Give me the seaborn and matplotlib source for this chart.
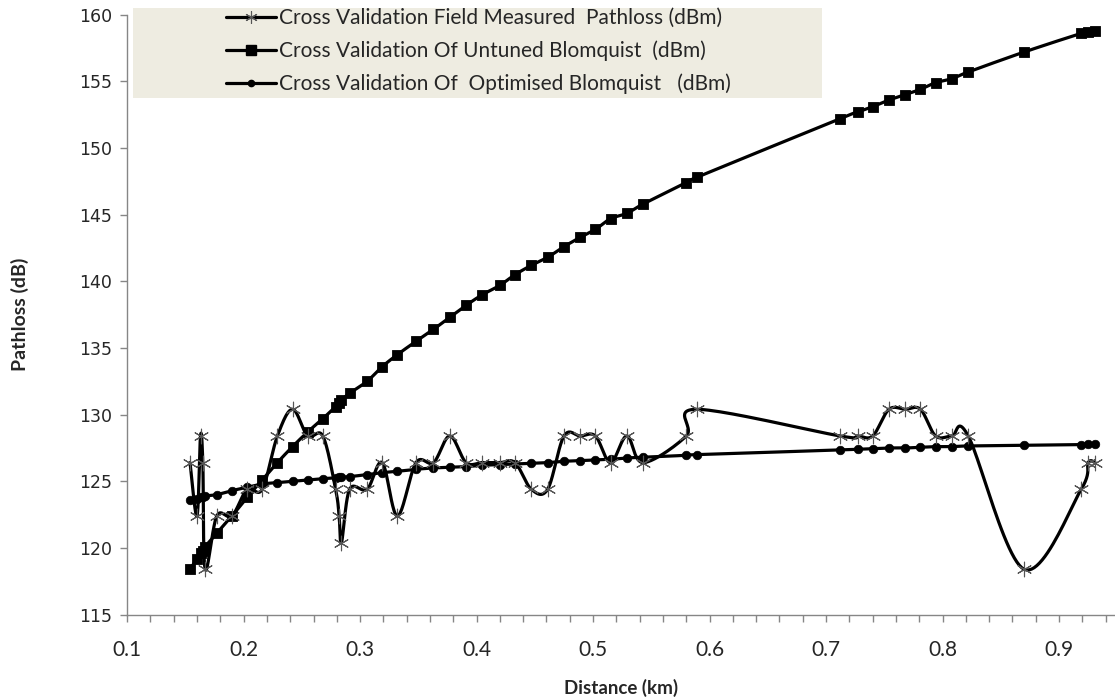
import numpy as np
import pandas as pd
import matplotlib
matplotlib.use("Agg")
import matplotlib.pyplot as plt
from matplotlib.lines import Line2D
from matplotlib.patches import Rectangle
from matplotlib.ticker import MultipleLocator
import seaborn as sns

# DATA

distance = [0.154, 0.160, 0.163, 0.165, 0.167, 0.177, 0.190, 0.203, 0.216, 0.229,
            0.242, 0.255, 0.268, 0.279, 0.282, 0.284, 0.291, 0.306, 0.319, 0.332,
            0.348, 0.363, 0.377, 0.391, 0.405, 0.420, 0.433, 0.447, 0.461, 0.475,
            0.489, 0.502, 0.515, 0.529, 0.543, 0.580, 0.589, 0.712, 0.727, 0.740,
            0.754, 0.768, 0.781, 0.794, 0.808, 0.822, 0.870, 0.919, 0.925, 0.931]

measured = [126.4, 122.4, 128.4, 126.4, 118.4, 122.4, 122.4, 124.4, 124.4, 128.4,
            130.4, 128.4, 128.4, 124.4, 122.4, 120.4, 124.4, 124.4, 126.4, 122.4,
            126.4, 126.4, 128.4, 126.4, 126.4, 126.4, 126.4, 124.4, 124.4, 128.4,
            128.4, 128.4, 126.4, 128.4, 126.4, 128.4, 130.4, 128.4, 128.4, 128.4,
            130.4, 130.4, 130.4, 128.4, 128.4, 128.4, 118.4, 124.4, 126.4, 126.4]

untuned = [118.4, 119.2, 119.6, 119.8, 120.1, 121.1, 122.4, 123.8, 125.1, 126.4,
           127.6, 128.7, 129.7, 130.6, 130.9, 131.1, 131.6, 132.5, 133.6, 134.5,
           135.5, 136.4, 137.3, 138.2, 139.0, 139.7, 140.5, 141.2, 141.8, 142.6,
           143.3, 143.9, 144.7, 145.1, 145.8, 147.4, 147.8, 152.2, 152.7, 153.1,
           153.6, 154.0, 154.4, 154.9, 155.2, 155.7, 157.2, 158.6, 158.7, 158.8]

optimised = [123.6, 123.7, 123.8, 123.85, 123.9, 124.0, 124.3, 124.55, 124.8, 124.9,
             125.0, 125.1, 125.2, 125.25, 125.3, 125.3, 125.35, 125.5, 125.65, 125.75,
             125.9, 126.0, 126.05, 126.1, 126.2, 126.25, 126.3, 126.35, 126.4, 126.5,
             126.55, 126.6, 126.65, 126.75, 126.8, 126.95, 127.0, 127.35, 127.4, 127.45,
             127.5, 127.5, 127.55, 127.6, 127.6, 127.65, 127.7, 127.75, 127.8, 127.8]

labels = ["Cross Validation Field Measured  Pathloss (dBm)",
          "Cross Validation Of Untuned Blomquist  (dBm)",
          "Cross Validation Of  Optimised Blomquist   (dBm)"]

x_lo, x_hi = 0.1, 0.948
y_lo, y_hi = 115, 160


def smooth(xs, ys, w_px=988, h_px=600, n=24):
    # Excel-like smoothed line: Catmull-Rom bezier in screen space
    px = (np.asarray(xs) - x_lo) / (x_hi - x_lo) * w_px
    py = (np.asarray(ys) - y_lo) / (y_hi - y_lo) * h_px
    P = np.column_stack([px, py])
    E = np.vstack([P[0], P, P[-1]])
    t = np.linspace(0, 1, n, endpoint=False)[:, None]
    parts = []
    for i in range(len(P) - 1):
        p0, p1, p2, p3 = E[i], E[i + 1], E[i + 2], E[i + 3]
        c1 = p1 + (p2 - p0) / 6
        c2 = p2 - (p3 - p1) / 6
        seg = (1 - t) ** 3 * p1 + 3 * (1 - t) ** 2 * t * c1 + 3 * (1 - t) * t ** 2 * c2 + t ** 3 * p2
        parts.append(seg)
    parts.append(P[-1:])
    S = np.vstack(parts)
    return S[:, 0] / w_px * (x_hi - x_lo) + x_lo, S[:, 1] / h_px * (y_hi - y_lo) + y_lo


sns.set_style("ticks")
plt.rcParams["font.family"] = ["Lato", "DejaVu Sans"]

fig = plt.figure(figsize=(11.15, 7), dpi=100)
ax = fig.add_axes([0.114, 0.122, 0.886, 0.857])

df = pd.DataFrame({"distance": distance, "measured": measured,
                   "untuned": untuned, "optimised": optimised})

for col in ["untuned", "optimised", "measured"]:
    sx, sy = smooth(df["distance"], df[col])
    sns.lineplot(x=sx, y=sy, sort=False, estimator=None, color="black",
                 linewidth=2.3, ax=ax)

sns.scatterplot(data=df, x="distance", y="untuned", marker="s", s=55,
                color="black", edgecolor="black", ax=ax, zorder=4)
sns.scatterplot(data=df, x="distance", y="optimised", marker="o", s=38,
                color="black", edgecolor="black", ax=ax, zorder=4)
sns.scatterplot(data=df, x="distance", y="measured", marker=(6, 2, 0), s=110,
                color="#555555", linewidth=0.8, ax=ax, zorder=5)

ax.set_xlim(x_lo, x_hi)
ax.set_ylim(y_lo, y_hi)
ax.xaxis.set_minor_locator(MultipleLocator(0.02))
ax.yaxis.set_major_locator(MultipleLocator(5))
ax.set_xticks(np.arange(0.1, 0.95, 0.1))
ax.set_xticklabels([f"{v:.1f}" for v in np.arange(0.1, 0.95, 0.1)])

sns.despine(ax=ax)
for side in ["left", "bottom"]:
    ax.spines[side].set_color("#868686")
    ax.spines[side].set_linewidth(1.0)
ax.tick_params(axis="both", which="both", direction="out", color="#868686", width=1.0)
ax.tick_params(axis="x", which="major", length=5, pad=13, labelsize=15)
ax.tick_params(axis="x", which="minor", length=5)
ax.tick_params(axis="y", which="major", length=5, pad=6)
for lab in ax.get_yticklabels():
    lab.set_family("DejaVu Sans")
    lab.set_fontsize(12.5)

ax.set_xlabel("Distance (km)", fontsize=13.5, fontweight="bold", labelpad=14)
ax.set_ylabel("Pathloss (dB)", fontsize=14, fontweight="bold", labelpad=36)

# legend box
fig.patches.append(Rectangle((133 / 1115, 1 - 98 / 700), 689 / 1115, 90 / 700,
                             transform=fig.transFigure, facecolor="#EEECE1",
                             edgecolor="none", zorder=3))
handles = [
    Line2D([], [], color="black", lw=2.3, marker=(6, 2, 0), markersize=9,
           markeredgecolor="#555555", markeredgewidth=0.8),
    Line2D([], [], color="black", lw=2.3, marker="s", markersize=7),
    Line2D([], [], color="black", lw=2.3, marker="o", markersize=4.5),
]
leg = fig.legend(handles, labels, loc="center", bbox_to_anchor=(478 / 1115, 1 - 51 / 700),
                 frameon=False, fontsize=15, handlelength=2.4,
                 handletextpad=0.15, labelspacing=0.6)
leg.set_zorder(5)

fig.savefig("out.png", dpi=100)
